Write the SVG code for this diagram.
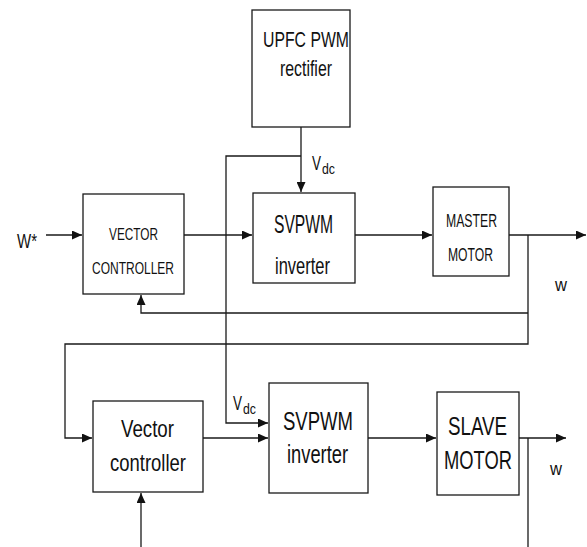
<svg xmlns="http://www.w3.org/2000/svg" width="587" height="547" viewBox="0 0 587 547">
<defs>
<marker id="ah" markerUnits="userSpaceOnUse" markerWidth="11" markerHeight="9" refX="10" refY="4.5" orient="auto">
<path d="M0,0 L10,4.5 L0,9 z" fill="#111"/>
</marker>
<style>
.box{fill:#fff;stroke:#1a1a1a;stroke-width:1.3}
.ln{fill:none;stroke:#1a1a1a;stroke-width:1.3}
.t{font-family:"Liberation Sans",Arial,sans-serif;fill:#111;text-anchor:middle}
.s{font-family:"Liberation Sans",Arial,sans-serif;fill:#111;text-anchor:start}
</style>
</defs>
<rect width="587" height="547" fill="#fff"/>
<g id="connectors">
<path class="ln" d="M46,235 H82" marker-end="url(#ah)"/>
<path class="ln" d="M184,235 H252" marker-end="url(#ah)"/>
<path class="ln" d="M355,235 H432" marker-end="url(#ah)"/>
<path class="ln" d="M509,235 H586" marker-end="url(#ah)"/>
<path class="ln" d="M301,127 V192" marker-end="url(#ah)"/>
<path class="ln" d="M301,156 H226 V423 H268" marker-end="url(#ah)"/>
<path class="ln" d="M528,235 V344 H65 V438 H92" marker-end="url(#ah)"/>
<path class="ln" d="M528,313 H141 V295" marker-end="url(#ah)"/>
<path class="ln" d="M203,438 H268" marker-end="url(#ah)"/>
<path class="ln" d="M368,438 H436" marker-end="url(#ah)"/>
<path class="ln" d="M519,438 H566" marker-end="url(#ah)"/>
<path class="ln" d="M528,438 V547"/>
<path class="ln" d="M141,547 V493" marker-end="url(#ah)"/>
</g>
<g id="upfc">
<rect class="box" x="252" y="10" width="98" height="117"/>
<text class="t" x="306" y="47" font-size="22" textLength="86" lengthAdjust="spacingAndGlyphs">UPFC PWM</text>
<text class="t" x="306" y="76" font-size="22" textLength="52" lengthAdjust="spacingAndGlyphs">rectifier</text>
</g>
<g id="vector-controller-1">
<rect class="box" x="83" y="194" width="101" height="100"/>
<text class="t" x="133.5" y="240" font-size="16.5" textLength="49" lengthAdjust="spacingAndGlyphs">VECTOR</text>
<text class="t" x="133" y="274" font-size="16.5" textLength="82" lengthAdjust="spacingAndGlyphs">CONTROLLER</text>
</g>
<g id="svpwm-1">
<rect class="box" x="253" y="193" width="102" height="90"/>
<text class="t" x="303.5" y="233" font-size="25" textLength="59" lengthAdjust="spacingAndGlyphs">SVPWM</text>
<text class="t" x="302.5" y="274" font-size="24" textLength="55" lengthAdjust="spacingAndGlyphs">inverter</text>
</g>
<g id="master-motor">
<rect class="box" x="433" y="187" width="76" height="89"/>
<text class="t" x="471.5" y="227" font-size="18" textLength="51" lengthAdjust="spacingAndGlyphs">MASTER</text>
<text class="t" x="470.5" y="261" font-size="18" textLength="45" lengthAdjust="spacingAndGlyphs">MOTOR</text>
</g>
<g id="vector-controller-2">
<rect class="box" x="93" y="401" width="110" height="91"/>
<text class="t" x="147.5" y="437" font-size="24" textLength="53" lengthAdjust="spacingAndGlyphs">Vector</text>
<text class="t" x="148" y="471" font-size="24" textLength="76" lengthAdjust="spacingAndGlyphs">controller</text>
</g>
<g id="svpwm-2">
<rect class="box" x="269" y="383" width="99" height="110"/>
<text class="t" x="318" y="430" font-size="25" textLength="70" lengthAdjust="spacingAndGlyphs">SVPWM</text>
<text class="t" x="317.5" y="463" font-size="25" textLength="61" lengthAdjust="spacingAndGlyphs">inverter</text>
</g>
<g id="slave-motor">
<rect class="box" x="437" y="392" width="82" height="103"/>
<text class="t" x="477.5" y="435" font-size="26" textLength="59" lengthAdjust="spacingAndGlyphs">SLAVE</text>
<text class="t" x="478" y="469" font-size="26" textLength="68" lengthAdjust="spacingAndGlyphs">MOTOR</text>
</g>
<g id="labels">
<text class="t" x="27" y="248" font-size="21" textLength="20" lengthAdjust="spacingAndGlyphs">W*</text>
<text class="t" x="561" y="291" font-size="19" textLength="12" lengthAdjust="spacingAndGlyphs">w</text>
<text class="t" x="556" y="475" font-size="19" textLength="12" lengthAdjust="spacingAndGlyphs">w</text>
<text class="s" x="312" y="170" font-size="20" textLength="9" lengthAdjust="spacingAndGlyphs">V</text>
<text class="s" x="322" y="174" font-size="15" textLength="13" lengthAdjust="spacingAndGlyphs">dc</text>
<text class="s" x="233" y="410" font-size="20" textLength="9" lengthAdjust="spacingAndGlyphs">V</text>
<text class="s" x="243" y="414" font-size="15" textLength="13" lengthAdjust="spacingAndGlyphs">dc</text>
</g>
</svg>
